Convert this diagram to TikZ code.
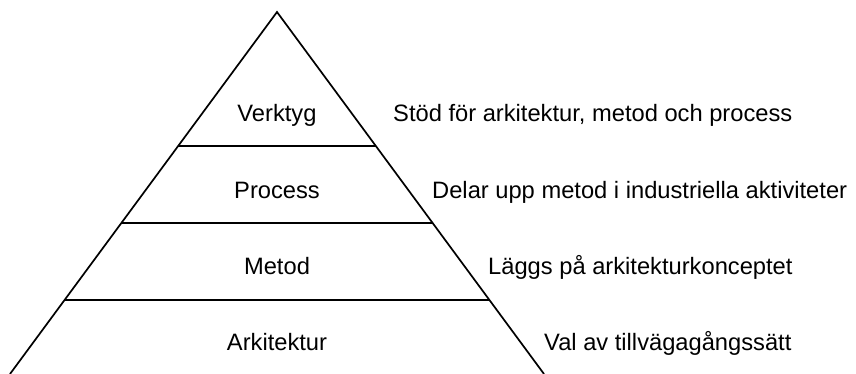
\documentclass[tikz,border=0pt]{standalone}
\usepackage{fontspec}
\setmainfont{Liberation Sans}
\usetikzlibrary{calc}
\begin{document}
\begin{tikzpicture}[x=1pt,y=-1pt,
  edge/.style={line width=1.7pt,line join=miter},
  layer/.style={anchor=base,inner sep=0pt,font=\fontsize{23.7}{28}\selectfont},
  note/.style={anchor=base west,inner sep=0pt,font=\fontsize{23.7}{28}\selectfont}]
  \useasboundingbox (0,0) rectangle (856,374);
  % pyramid outline
  \coordinate (apex) at (277,12);
  \coordinate (bl) at (10,374);
  \coordinate (br) at (544,374);
  \draw[edge] (bl) -- (apex) -- (br);
  % layer boundaries
  \foreach \t/\n in {0.3702/a,0.5829/b,0.7956/c}{
    \coordinate (l\n) at ($(apex)!\t!(bl)$);
    \coordinate (r\n) at ($(apex)!\t!(br)$);
    \draw[edge] (l\n) -- (r\n);
  }
  % layer names
  \node[layer] (verktyg) at (277,122) {Verktyg};
  \node[layer] (process) at (277,198) {Process};
  \node[layer] (metod) at (277,274) {Metod};
  \node[layer] (arkitektur) at (277,350) {Arkitektur};
  % descriptions
  \node[note] (d1) at (393,122) {Stöd för arkitektur, metod och process};
  \node[note] (d2) at (432,198) {Delar upp metod i industriella aktiviteter};
  \node[note] (d3) at (488,274) {Läggs på arkitekturkonceptet};
  \node[note] (d4) at (544,350) {Val av tillvägagångssätt};
\end{tikzpicture}
\end{document}
